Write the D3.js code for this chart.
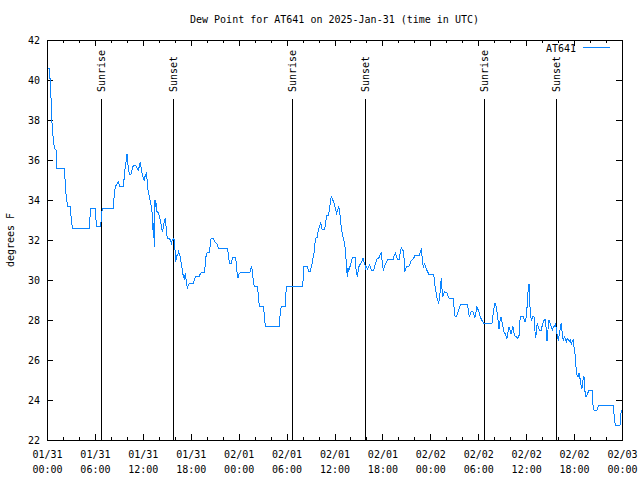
<!DOCTYPE html>
<html>
<head>
<meta charset="utf-8">
<script src="https://cdn.jsdelivr.net/npm/d3@7"></script>
<style>
  html, body { margin: 0; padding: 0; background: #fff; }
  svg { display: block; }
  text { font-family: "DejaVu Sans Mono", "Liberation Mono", monospace; font-size: 10px; fill: #000; }
</style>
</head>
<body>
<svg id="chart" width="640" height="480"></svg>
<script>
// ---- data (hours since 2025-01-31 00:00 UTC, dew point in °F) ----
const titleText = "Dew Point for AT641 on 2025-Jan-31 (time in UTC)";
const seriesName = "AT641";
const yLabel = "degrees F";
const yTicks = [22, 24, 26, 28, 30, 32, 34, 36, 38, 40, 42];
const xTickHours = [0, 6, 12, 18, 24, 30, 36, 42, 48, 54, 60, 66, 72];
const sunriseTimes = ["2025-01-31T06:48Z", "2025-02-01T06:43Z", "2025-02-02T06:46Z"];
const sunsetTimes = ["2025-01-31T15:49Z", "2025-02-01T15:52Z", "2025-02-02T15:47Z"];
const dewPoint = [
[0.17,40.6],[0.28,40.6],[0.29,40.1],[0.45,40.1],[0.5,39.1],[0.58,38.1],[0.71,37.4],[0.83,36.9],[0.92,36.6],[1.15,36.5],[1.25,35.6],[2.17,35.6],[2.35,34.4],[2.5,33.9],[2.59,33.7],[2.92,33.7],[3.0,33.2],[3.17,32.6],[5.3,32.6],[5.45,33.6],[6.05,33.6],[6.15,32.9],[6.25,32.7],[6.68,32.7],[6.76,32.9],[6.93,33.6],[8.3,33.6],[8.45,34.4],[8.6,34.7],[8.93,34.9],[9.1,34.7],[9.6,34.7],[9.68,35.3],[9.85,35.75],[10.02,36.3],[10.18,35.6],[10.31,35.3],[10.52,35.3],[10.69,35.6],[10.85,35.75],[11.1,35.75],[11.27,35.6],[11.44,35.5],[11.6,35.75],
[11.65,35.87],[11.77,35.67],[11.90,35.33],[12.06,35.08],[12.19,35.0],[12.31,35.25],[12.44,35.33],[12.52,35.08],[12.61,34.58],[12.73,34.33],[12.86,34.08],[12.98,33.83],[13.11,33.58],[13.23,33.0],[13.31,32.08],[13.40,32.83],[13.44,31.67],[13.52,34.0],[13.61,33.67],[13.69,33.83],[13.77,33.42],[13.94,33.37],[14.07,33.17],[14.23,32.92],[14.36,32.58],[14.48,32.42],[14.61,32.75],[14.74,33.0],[14.82,33.08],[14.91,32.67],[14.99,32.33],[15.07,32.08],[15.32,32.08],[15.45,32.0],[15.57,31.83],[15.70,32.0],[15.82,32.08],[15.95,32.0],[16.03,31.5],[16.12,30.92],[16.24,31.25],[16.37,31.25],[16.49,31.42],[16.62,31.25],[16.70,31.08],[16.82,30.83],[16.95,30.5],[17.07,30.17],[17.20,30.08],[17.32,30.33],[17.45,29.92],[17.57,29.58],[17.70,29.75],[17.83,29.83],[18.33,29.83],[18.45,30.0],[18.58,30.17],[19.08,30.17],[19.20,30.33],[19.33,30.38],[19.70,30.38],[19.79,30.67],[19.91,31.17],[20.04,31.37],[20.33,31.37],[20.41,31.67],[20.54,32.05],[20.83,32.08],[20.95,31.95],[21.08,31.87],[21.25,31.83],[21.37,31.7],[21.50,31.57],[22.58,31.57],[22.71,31.33],[22.83,30.83],[23.08,30.83],[23.17,31.0],[23.29,31.13],[23.58,31.13],[23.71,30.87],[23.83,30.17],
[23.92,30.13],[24.04,30.3],[24.29,30.4],[25.42,30.4],[25.55,30.58],[25.63,30.7],[25.75,30.25],[25.88,29.83],[25.96,29.7],[26.30,29.7],[26.42,29.42],[26.50,29.0],[26.59,28.7],[27.05,28.7],[27.17,28.42],[27.34,27.7],[29.09,27.7],[29.22,28.42],[29.34,28.7],[29.84,28.7],[29.93,29.42],[30.05,29.7],[32.01,29.7],[32.10,30.17],[32.18,30.7],[32.60,30.67],[32.77,30.42],[32.93,30.42],[33.10,30.63],[33.27,31.0],[33.39,31.25],[33.52,31.58],[33.60,32.08],[33.85,32.13],[33.94,32.42],[34.10,32.67],[34.27,32.87],[34.44,32.53],[34.77,32.53],[34.94,33.03],[35.06,33.25],[35.27,33.25],[35.40,33.67],[35.52,33.97],[35.60,34.17],[35.77,34.0],[35.90,33.92],[36.02,33.75],
[36.10,33.58],[36.27,33.33],[36.40,33.5],[36.52,33.67],[36.65,33.42],[36.77,32.92],[36.90,32.5],[37.02,32.25],[37.15,32.0],[37.27,31.83],[37.40,31.33],[37.52,30.5],[37.61,30.17],[37.69,30.58],[37.77,30.42],[37.94,30.67],[38.11,30.92],[38.27,31.13],[38.57,31.13],[38.69,30.58],[38.86,30.17],[38.98,30.5],[39.11,30.75],[39.28,30.8],[39.40,30.92],[39.57,31.08],[39.69,30.92],[39.82,30.75],[39.86,30.53],[40.03,30.67],[40.11,30.53],[40.28,30.67],[40.40,30.75],[40.53,30.58],[40.65,30.5],[40.90,30.5],[41.03,30.67],[41.20,30.92],[41.32,31.05],[41.53,31.08],[41.66,31.2],[41.78,31.3],[41.86,31.42],[41.99,30.83],[42.11,30.47],[42.24,30.67],[42.37,30.8],[42.49,30.87],[42.62,31.0],[42.78,31.03],[43.33,31.03],[43.45,31.2],[43.62,31.33],[43.74,31.2],[43.87,31.03],[44.12,31.03],[44.24,31.42],[44.37,31.63],[44.54,31.5],[44.66,31.42],[44.79,30.42],[44.91,30.58],[45.04,30.67],[45.37,30.7],[45.54,30.92],[45.70,31.0],[45.91,31.08],[46.04,31.2],[46.21,31.25],[46.62,31.25],[46.75,31.42],[46.87,31.53],[47.00,31.08],[47.12,30.58],[47.25,30.8],[47.37,30.7],[47.50,30.53],[47.67,30.42],[47.79,30.28],
[48.33,30.3],[48.46,30.17],[48.54,29.83],[48.67,29.5],[48.79,29.17],[48.92,29.0],[49.04,28.87],[49.17,29.08],[49.29,29.83],[49.38,30.08],[49.46,29.58],[49.54,29.17],[49.67,29.33],[49.79,29.4],[50.05,29.37],[50.21,29.2],[50.34,29.08],[50.84,29.08],[50.96,28.67],[51.09,28.2],[51.26,28.2],[51.42,28.33],[51.59,28.53],[51.76,28.75],[51.88,28.8],[52.63,28.8],[52.76,28.5],[52.88,28.13],[53.01,28.33],[53.13,28.45],[53.34,28.42],[53.47,28.25],[53.59,28.13],[53.72,28.42],[53.84,28.67],[53.97,28.53],[54.09,28.42],[54.22,28.2],[54.39,28.03],[54.55,27.92],[54.68,27.83],[55.72,27.83],[55.85,28.25],[55.97,28.58],[56.10,28.83],[56.22,28.7],[56.35,28.42],[56.47,28.0],[56.60,27.53],[56.72,27.92],[56.85,28.13],[56.97,27.92],[57.10,27.67],[57.22,27.42],[57.35,27.33],[57.48,27.2],[57.60,27.08],[57.73,27.42],[57.85,27.67],[57.98,27.5],[58.10,27.3],[58.23,27.5],[58.35,27.67],[58.48,27.33],[58.60,27.2],[58.73,27.2],[58.85,27.13],[58.98,27.08],[59.10,27.2],[59.23,28.0],[59.35,28.2],[59.60,28.2],[59.73,28.05],[59.85,27.92],[59.98,28.08],
[60.10,28.58],[60.23,29.37],[60.36,29.8],[60.44,28.92],[60.56,28.17],[60.69,28.0],[60.81,28.17],[60.98,28.17],[61.11,27.42],[61.19,27.08],[61.27,27.42],[61.40,27.87],[61.52,27.63],[61.65,27.5],[61.90,27.5],[62.02,27.75],[62.15,27.92],[62.28,28.0],[62.40,28.03],[62.48,27.67],[62.61,26.95],[62.73,27.5],[62.86,28.0],[62.99,27.83],[63.15,27.67],[63.28,27.5],[63.40,27.63],[63.53,27.7],[63.65,27.8],[63.78,27.58],[63.90,27.17],[64.03,26.97],[64.15,27.33],[64.28,27.58],[64.40,27.87],[64.53,27.25],[64.65,26.97],[64.78,27.17],[64.90,27.08],[65.03,26.92],[65.16,27.08],[65.28,27.0],[65.41,26.92],[65.53,27.0],[65.66,26.8],[65.78,26.97],[65.91,27.0],[65.99,26.67],[66.12,26.3],[66.24,25.67],[66.37,25.25],[66.49,25.17],[66.62,25.33],[66.74,25.08],[66.87,24.75],[66.99,24.58],[67.12,25.0],[67.24,25.17],[67.37,24.42],[67.49,24.17],[67.62,24.25],[67.74,24.37],[67.87,24.47],[67.99,24.5],[68.24,24.5],[68.37,23.75],[68.49,23.5],[68.87,23.5],[68.99,23.63],[69.16,23.75],[70.92,23.75],[71.04,23.08],[71.17,22.75],[71.75,22.75],[71.83,23.17],[71.92,23.5]
];

// ---- layout ----
const W = 640, H = 480;
const margin = { left: 47, right: 18, top: 40, bottom: 40 };
const t0 = Date.UTC(2025, 0, 31);
const HOUR = 3600e3;

const svg = d3.select("#chart");
const x = d3.scaleUtc()
  .domain([new Date(t0), new Date(t0 + 72 * HOUR)])
  .range([margin.left, W - margin.right]);
const y = d3.scaleLinear()
  .domain([22, 42])
  .range([H - margin.bottom, margin.top]);

const x0 = margin.left, x1 = W - margin.right, y0 = H - margin.bottom, y1 = margin.top;

// title
svg.append("text")
  .attr("x", (x0 + x1) / 2).attr("y", 23)
  .attr("text-anchor", "middle")
  .text(titleText);

// y label
svg.append("text")
  .attr("transform", `translate(14,${(y0 + y1) / 2}) rotate(-90)`)
  .attr("text-anchor", "middle")
  .text(yLabel);

const fmtDate = d3.utcFormat("%m/%d");
const fmtTime = d3.utcFormat("%H:%M");
const majorTicks = xTickHours.map(h => new Date(t0 + h * HOUR));
const minorTicks = d3.range(0, 73, 2).map(h => new Date(t0 + h * HOUR));

function styleAxis(g) {
  g.select(".domain").remove();
  g.selectAll(".tick line").attr("stroke", "#000").attr("shape-rendering", "crispEdges");
  g.selectAll("text").attr("fill", "#000").attr("font-family", null).attr("font-size", null);
}

// bottom axis (minor + major)
svg.append("g").attr("transform", `translate(0,${y0})`)
  .call(d3.axisBottom(x).tickValues(minorTicks).tickSize(-3).tickFormat(""))
  .call(styleAxis);
const xb = svg.append("g").attr("transform", `translate(0,${y0})`)
  .call(d3.axisBottom(x).tickValues(majorTicks).tickSize(-6).tickPadding(11).tickFormat(""))
  .call(styleAxis);
xb.selectAll(".tick text").each(function(d) {
  const t = d3.select(this);
  t.text(null);
  t.append("tspan").attr("x", 0).attr("dy", "0.71em").text(fmtDate(d));
  t.append("tspan").attr("x", 0).attr("dy", "1.5em").text(fmtTime(d));
});

// top axis (mirror)
svg.append("g").attr("transform", `translate(0,${y1})`)
  .call(d3.axisTop(x).tickValues(minorTicks).tickSize(-3).tickFormat(""))
  .call(styleAxis);
svg.append("g").attr("transform", `translate(0,${y1})`)
  .call(d3.axisTop(x).tickValues(majorTicks).tickSize(-6).tickFormat(""))
  .call(styleAxis);

// left / right axes
svg.append("g").attr("transform", `translate(${x0},0)`)
  .call(d3.axisLeft(y).tickValues(yTicks).tickSize(-6).tickPadding(7).tickFormat(d3.format("d")))
  .call(styleAxis);
svg.append("g").attr("transform", `translate(${x1},0)`)
  .call(d3.axisRight(y).tickValues(yTicks).tickSize(-6).tickFormat(""))
  .call(styleAxis);

// sunrise / sunset markers
const events = [
  ...sunriseTimes.map(t => ({ t: new Date(t), label: "Sunrise" })),
  ...sunsetTimes.map(t => ({ t: new Date(t), label: "Sunset" }))
];
const ev = svg.append("g");
events.forEach(e => {
  const px = Math.round(x(e.t)) + 0.5;
  ev.append("line")
    .attr("x1", px).attr("x2", px)
    .attr("y1", 99).attr("y2", y0)
    .attr("stroke", "#000").attr("stroke-width", 1)
    .attr("shape-rendering", "crispEdges");
  ev.append("text")
    .attr("transform", `translate(${px},92) rotate(-90)`)
    .attr("text-anchor", "start")
    .attr("dy", "0.35em")
    .text(e.label);
});

// data line
const line = d3.line()
  .x(d => x(new Date(t0 + d[0] * HOUR)))
  .y(d => y(d[1]));
svg.append("path")
  .datum(dewPoint)
  .attr("d", line)
  .attr("fill", "none")
  .attr("stroke", "#0a84ff")
  .attr("stroke-width", 1)
  .attr("shape-rendering", "crispEdges");

// legend
svg.append("text")
  .attr("x", 576).attr("y", 52)
  .attr("text-anchor", "end")
  .text(seriesName);
svg.append("line")
  .attr("x1", 583).attr("x2", 610)
  .attr("y1", 47.5).attr("y2", 47.5)
  .attr("stroke", "#0a84ff").attr("stroke-width", 1);

// border
svg.append("rect")
  .attr("x", x0 + 0.5).attr("y", y1 + 0.5)
  .attr("width", x1 - x0).attr("height", y0 - y1)
  .attr("fill", "none").attr("stroke", "#000").attr("stroke-width", 1)
  .attr("shape-rendering", "crispEdges");
</script>
</body>
</html>
